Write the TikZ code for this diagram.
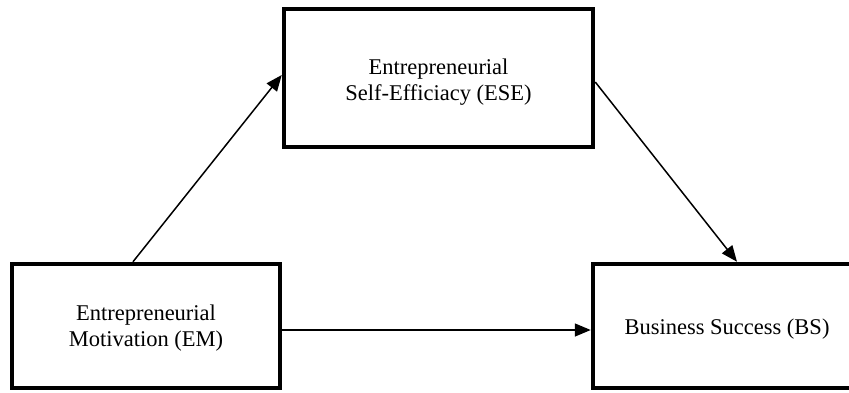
\documentclass[tikz,border=0pt]{standalone}
\usepackage{fontspec}
\setmainfont{Liberation Serif}
\usetikzlibrary{arrows.meta,calc}
\tikzset{
  box/.style={draw=black, line width=4.5pt, rectangle, inner sep=0pt},
  txt/.style={inner sep=0pt, align=center, font=\fontsize{22.5}{26}\selectfont},
  arr/.style={line width=1.5pt, -{Triangle[length=16pt,width=13pt]}}
}
\begin{document}
\begin{tikzpicture}[x=1pt,y=-1pt]
\clip (0,0) rectangle (849,392);
\fill[white] (0,0) rectangle (849,392);
\node[box, minimum width=268pt, minimum height=124pt] (em) at (146,326) {};
\node[box, minimum width=309pt, minimum height=138pt] (ese) at (438.5,78) {};
\node[box, minimum width=268pt, minimum height=124pt] (bs) at (727,326) {};
\node[txt] (emt) at ($(em.center)+(0,2)$) {Entrepreneurial\\Motivation (EM)};
\node[txt] (eset) at ($(ese.center)+(0,4)$) {Entrepreneurial\\Self-Efficiacy (ESE)};
\node[txt] (bst) at ($(bs.center)+(0,3)$) {Business Success (BS)};
\draw[arr] ($(em.north)+(-13,0)$) -- ($(ese.west)+(0,-3)$);
\draw[arr] ($(ese.east)+(0,4)$) -- ($(bs.north)+(10,0)$);
\draw[arr] ($(em.east)+(0,4)$) -- ($(bs.west)+(0,4)$);
\end{tikzpicture}
\end{document}
